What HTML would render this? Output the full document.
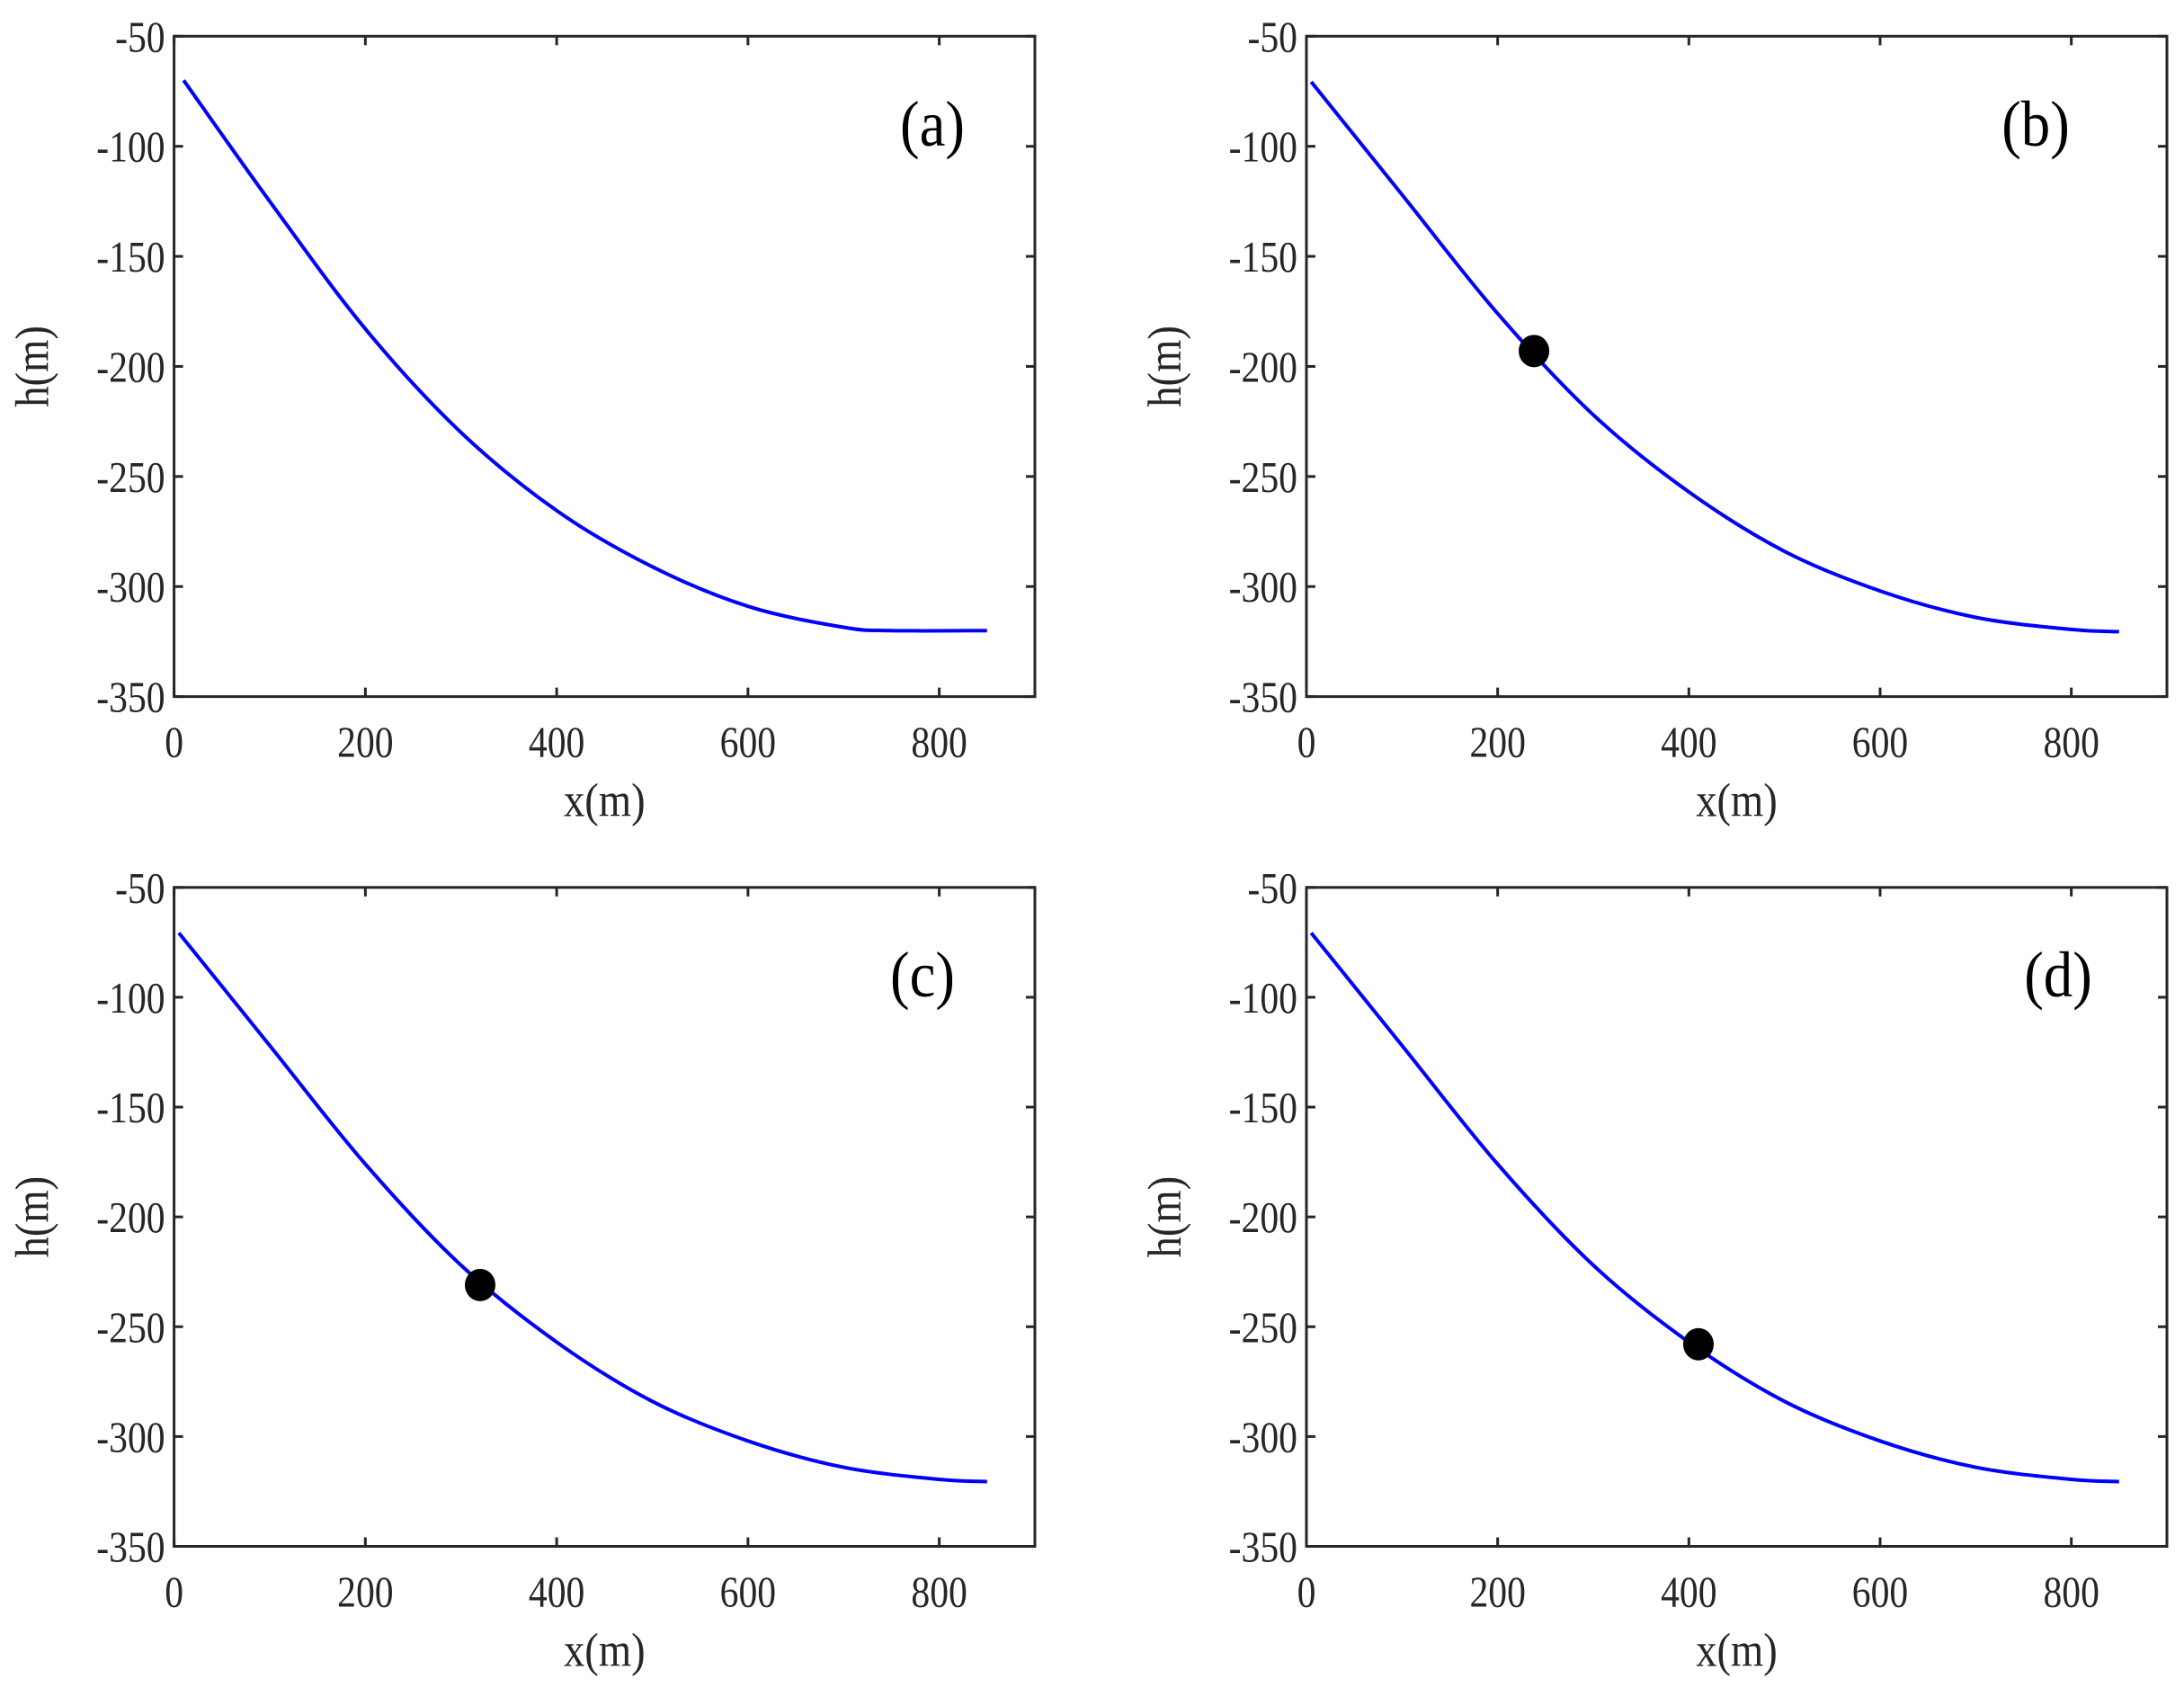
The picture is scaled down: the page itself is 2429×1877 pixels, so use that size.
<!DOCTYPE html>
<html><head><meta charset="utf-8"><style>
html,body{margin:0;padding:0;background:#fff;}
svg{display:block;font-family:"Liberation Serif",serif;}
</style></head><body>
<svg id="fig" width="2429" height="1877" viewBox="0 0 2429 1877" xmlns="http://www.w3.org/2000/svg"></svg>
<script>
const xTicks=[0,200,400,600,800];
const yTicks=[-50,-100,-150,-200,-250,-300,-350];
const curveAX=[10,100,200,300,400,500,600,700,750,850];
const curveAY=[-70,-125,-183,-230,-265.5,-291,-309,-318.5,-320,-320];
const curveDX=[5,100,200,300,400,500,600,700,800,850];
const curveDY=[-70.7,-122,-176,-222,-257,-284,-302,-314,-319.5,-320.5];
const markerX=[null,238,320,410];
const markerY=[null,-193,-231,-258];
const panelLabels=['(a)','(b)','(c)','(d)'];
const NS='http://www.w3.org/2000/svg';
const svg=document.getElementById('fig');
function mk(tag,attrs,parent){const e=document.createElementNS(NS,tag);for(const k in attrs)e.setAttribute(k,attrs[k]);(parent||svg).appendChild(e);return e;}
function smooth(pts){
  let d='M'+pts[0][0].toFixed(1)+','+pts[0][1].toFixed(1);
  for(let i=0;i<pts.length-1;i++){
    const p0=pts[Math.max(0,i-1)],p1=pts[i],p2=pts[i+1],p3=pts[Math.min(pts.length-1,i+2)];
    const c1=[p1[0]+(p2[0]-p0[0])/6,p1[1]+(p2[1]-p0[1])/6];
    const c2=[p2[0]-(p3[0]-p1[0])/6,p2[1]-(p3[1]-p1[1])/6];
    d+='C'+c1[0].toFixed(1)+','+c1[1].toFixed(1)+' '+c2[0].toFixed(1)+','+c2[1].toFixed(1)+' '+p2[0].toFixed(1)+','+p2[1].toFixed(1);
  }
  return d;
}
const panels=[{l:193.6,r:1151,t:40.3,b:774.6},{l:1453,r:2410,t:40.3,b:774.6},{l:193.6,r:1151,t:986.8,b:1719.5},{l:1453,r:2410,t:986.8,b:1719.5}];
const labelPos=[[1037,162],[2264,162],[1026,1108],[2289,1108]];
panels.forEach((p,i)=>{
  const g=mk('g',{});
  
  
  const sx=v=>p.l+(v-0)/900*(p.r-p.l);
  const sy=v=>p.t+(-50-v)/300*(p.b-p.t);
  const xs=i===0?curveAX:curveDX, ys=i===0?curveAY:curveDY;
  const pts=xs.map((x,k)=>[sx(x),sy(ys[k])]);
  const line=mk('path',{d:smooth(pts),fill:'none',stroke:'#0000ff','stroke-width':4,'stroke-linejoin':'round'},g);
  
  
  if(markerX[i]!==null){
    const c=mk('ellipse',{cx:sx(markerX[i]),cy:sy(markerY[i]),rx:17,ry:18,fill:'#000'},g);
    
    
  }
  const box=mk('rect',{x:p.l,y:p.t,width:p.r-p.l,height:p.b-p.t,fill:'none',stroke:'#262626','stroke-width':3},g);
  
  
  xTicks.forEach(v=>{
    const x=sx(v);
    mk('line',{x1:x,x2:x,y1:p.b,y2:p.b-10,stroke:'#262626','stroke-width':3},g);
    mk('line',{x1:x,x2:x,y1:p.t,y2:p.t+10,stroke:'#262626','stroke-width':3},g);
    const t=mk('text',{x:0,y:0,'text-anchor':'middle','font-size':49,fill:'#262626',transform:'translate('+x+' '+(p.b+67)+') scale(0.85 1)'},g);
    t.textContent=v;
    
    
  });
  yTicks.forEach(v=>{
    const y=sy(v);
    mk('line',{x1:p.l,x2:p.l+10,y1:y,y2:y,stroke:'#262626','stroke-width':3},g);
    mk('line',{x1:p.r,x2:p.r-10,y1:y,y2:y,stroke:'#262626','stroke-width':3},g);
    const t=mk('text',{x:0,y:0,'text-anchor':'end','font-size':49,fill:'#262626',transform:'translate('+(p.l-10)+' '+(y+17)+') scale(0.85 1)'},g);
    t.textContent=v;
    
    
  });
  const xl=mk('text',{x:0,y:0,'text-anchor':'middle','font-size':53,fill:'#262626',transform:'translate('+((p.l+p.r)/2)+' '+(p.b+133)+') scale(0.88 1)'},g);
  xl.textContent='x(m)';
  
  
  const yx=p.l-140, yy=(p.t+p.b)/2;
  const yl=mk('text',{x:0,y:0,'text-anchor':'middle','font-size':53,fill:'#262626',transform:'translate('+yx+' '+yy+') rotate(-90) scale(0.88 1)'},g);
  yl.textContent='h(m)';
  
  
  const pl=mk('text',{x:0,y:0,'text-anchor':'middle','font-size':72,fill:'#000',transform:'translate('+labelPos[i][0]+' '+labelPos[i][1]+') scale(0.9 1)'},g);
  pl.textContent=panelLabels[i];
  
  
});
</script>
</body></html>
